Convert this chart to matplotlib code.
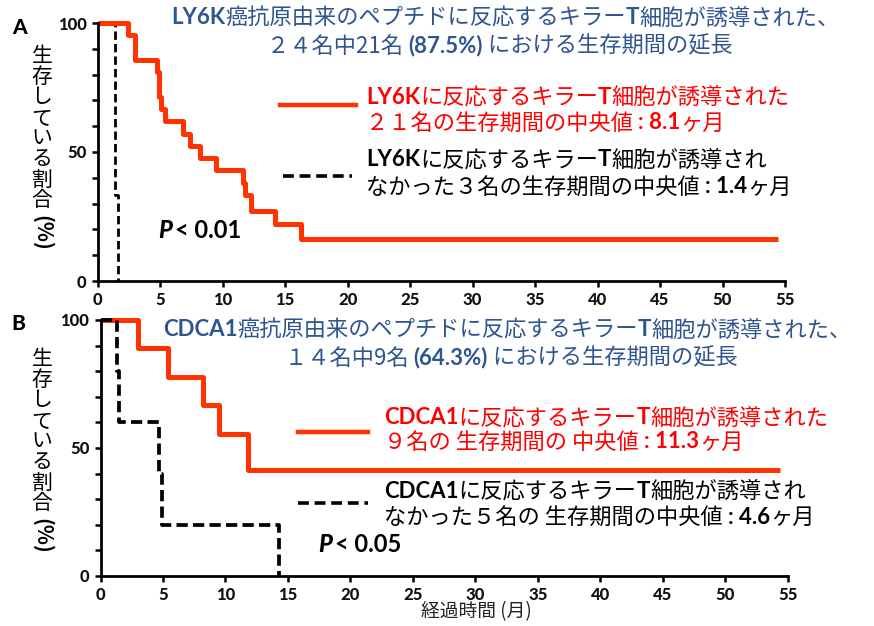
import matplotlib.pyplot as plt
from matplotlib.lines import Line2D

W, H = 874, 626
JP = ['Noto Sans CJK JP', 'DejaVu Sans']
LAT = ['Lato', 'Noto Sans CJK JP', 'DejaVu Sans']
plt.rcParams['font.family'] = JP

RED = '#ff3300'
TXTRED = '#ff0000'
BLUE = '#2f5590'

# --- data (months, % surviving) ---
a_red_t = [0, 2.45, 2.95, 4.75, 4.9, 5.05, 5.4, 6.85, 7.4, 8.2, 9.5, 11.6, 11.75, 12.3, 14.2, 16.3, 54.4]
a_red_s = [100, 95.2, 85.7, 81.0, 71.4, 66.7, 61.9, 57.1, 52.4, 47.6, 42.9, 38.1, 33.3, 27.2, 21.9, 16.2, 16.2]
a_blk_t = [0, 1.35, 1.42, 1.65]
a_blk_s = [100, 66.7, 33.3, 0]

b_red_t = [0, 3.03, 5.43, 8.18, 9.51, 11.78, 54.4]
b_red_s = [100, 88.9, 77.8, 66.7, 55.6, 41.4, 41.4]
b_blk_t = [0, 1.35, 1.5, 4.68, 4.9, 14.3]
b_blk_s = [100, 80, 60, 40, 20, 0]

xticks = list(range(0, 56, 5))
yticks = [0, 50, 100]

fig = plt.figure(figsize=(W / 100, H / 100), dpi=100)
renderer = fig.canvas.get_renderer()


def px_axes(x0, y0, x1, y1):
    return fig.add_axes([x0 / W, 1 - y1 / H, (x1 - x0) / W, (y1 - y0) / H])


def style(ax):
    ax.set_xlim(0, 55)
    ax.set_ylim(0, 100)
    for s in ['top', 'right']:
        ax.spines[s].set_visible(False)
    for s in ['left', 'bottom']:
        ax.spines[s].set_linewidth(2)
    ax.set_xticks(xticks)
    ax.set_yticks(yticks)
    ax.set_yticks(range(0, 101, 10), minor=True)
    ax.tick_params(which='both', direction='out', width=1.8, length=4, pad=4)
    ax.set_xticklabels([str(v) for v in xticks], fontweight='black', family=LAT, fontsize=12, color='#111111')
    ax.set_yticklabels([str(v) for v in yticks], fontweight='black', family=LAT, fontsize=12, color='#111111')


def rich(x, y, parts, ha='left', size=16):
    # parts: (text, bold, color); x, y in pixels from top-left
    items = []
    for s, bold, col in parts:
        t = fig.text(0, 0, s, fontsize=size, color=col, va='center', ha='left',
                     family=LAT if bold else JP, fontweight='bold' if bold else 'normal')
        items.append((t, t.get_window_extent(renderer).width))
    total = sum(w for _, w in items)
    cx = x - total / 2 if ha == 'center' else x
    for t, w in items:
        t.set_position((cx / W, 1 - y / H))
        cx += w


def ylabel(x, y0, step):
    for i, ch in enumerate('生存している割合'):
        fig.text(x / W, 1 - (y0 + i * step) / H, ch, fontsize=15, ha='center', va='center')
    fig.text(x / W, 1 - (y0 + 8 * step + 12) / H, '(%)', fontsize=15, fontweight='bold',
             ha='center', va='center', rotation=270)


def legline(x0, x1, y, dashed):
    if dashed:
        ln = Line2D([x0 / W, x1 / W], [1 - y / H] * 2, color='black', lw=2.6, dashes=(3, 1.6),
                    transform=fig.transFigure)
    else:
        ln = Line2D([x0 / W, x1 / W], [1 - y / H] * 2, color=RED, lw=3.2, transform=fig.transFigure)
    fig.add_artist(ln)


# ---------- panel A ----------
axA = px_axes(97.7, 23, 785, 281)
style(axA)
axA.step(a_blk_t, a_blk_s, where='post', color='black', lw=2.0, dashes=(3, 1.5), clip_on=False)
axA.step(a_red_t, a_red_s, where='post', color=RED, lw=3.6, clip_on=False, solid_capstyle='butt')

# ---------- panel B ----------
axB = px_axes(100.5, 320, 787.7, 576)
style(axB)
axB.step(b_red_t, b_red_s, where='post', color=RED, lw=3.6, clip_on=False, solid_capstyle='butt')
axB.step(b_blk_t, b_blk_s, where='post', color='black', lw=2.7, dashes=(3, 1.4), clip_on=False)

# panel letters
fig.text(19 / W, 1 - 28 / H, 'A', fontsize=15, fontweight='black', family=LAT, ha='center', va='center')
fig.text(18 / W, 1 - 324 / H, 'B', fontsize=15, fontweight='black', family=LAT, ha='center', va='center')

# y labels
ylabel(42, 56, 20.6)
ylabel(42, 359, 20.6)

# titles
rich(505, 18, [('LY6K', True, BLUE), ('癌抗原由来のペプチドに反応するキラー', False, BLUE),
               ('T', True, BLUE), ('細胞が誘導された、', False, BLUE)], ha='center')
rich(500, 46, [('２４名中21名 ', False, BLUE), ('(87.5%)', True, BLUE),
               (' における生存期間の延長', False, BLUE)], ha='center')
rich(507, 330, [('CDCA1', True, BLUE), ('癌抗原由来のペプチドに反応するキラー', False, BLUE),
                ('T', True, BLUE), ('細胞が誘導された、', False, BLUE)], ha='center')
rich(511, 358, [('１４名中9名 ', False, BLUE), ('(64.3%)', True, BLUE),
                (' における生存期間の延長', False, BLUE)], ha='center')

# legend A
legline(280, 356, 105, False)
rich(366, 97, [('LY6K', True, TXTRED), ('に反応するキラー', False, TXTRED), ('T', True, TXTRED),
               ('細胞が誘導された', False, TXTRED)])
rich(366, 123, [('２１名の生存期間の中央値 ', False, TXTRED), (': 8.1', True, TXTRED), ('ヶ月', False, TXTRED)])
legline(283, 352, 176, True)
rich(366, 160, [('LY6K', True, 'black'), ('に反応するキラー', False, 'black'), ('T', True, 'black'),
                ('細胞が誘導され', False, 'black')])
rich(366, 187, [('なかった３名の生存期間の中央値 ', False, 'black'), (': 1.4', True, 'black'), ('ヶ月', False, 'black')])

# legend B
legline(298, 368, 432, False)
rich(384, 418, [('CDCA1', True, TXTRED), ('に反応するキラー', False, TXTRED), ('T', True, TXTRED),
                ('細胞が誘導された', False, TXTRED)])
rich(384, 442, [('９名の 生存期間の 中央値 ', False, TXTRED), (': 11.3', True, TXTRED), ('ヶ月', False, TXTRED)])
legline(298, 368, 503, True)
rich(384, 491, [('CDCA1', True, 'black'), ('に反応するキラー', False, 'black'), ('T', True, 'black'),
                ('細胞が誘導され', False, 'black')])
rich(384, 517, [('なかった５名の 生存期間の中央値 ', False, 'black'), (': 4.6', True, 'black'), ('ヶ月', False, 'black')])

# p-values
for px, py, txt in [(158, 230, '< 0.01'), (318, 545, '< 0.05')]:
    fig.text(px / W, 1 - py / H, 'P', fontsize=17, fontweight='black', style='italic', family=LAT,
             va='center', ha='left')
    fig.text((px + 17) / W, 1 - py / H, txt, fontsize=17, fontweight='bold', family=LAT, va='center', ha='left')

# x label
fig.text(476 / W, 1 - 612 / H, '経過時間 (月)', fontsize=13.5, ha='center', va='center', color='#222222')

fig.savefig('out.png', dpi=100)
